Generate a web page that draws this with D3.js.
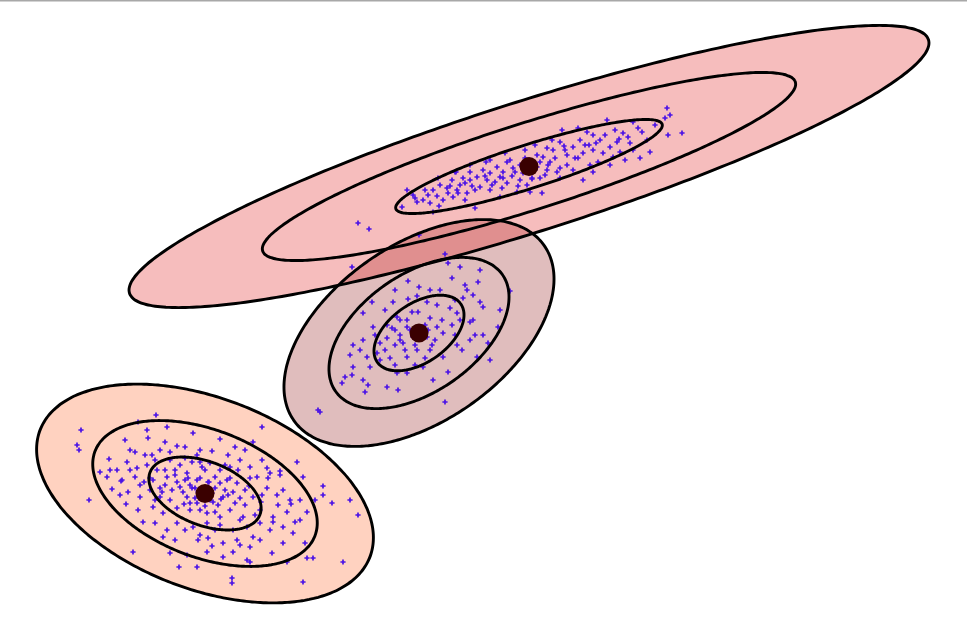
<!DOCTYPE html>
<html>
<head>
<meta charset="utf-8">
<script src="https://cdn.jsdelivr.net/npm/d3@7"></script>
<style>
  html, body { margin: 0; padding: 0; background: #ffffff; }
  svg { display: block; }
</style>
</head>
<body>
<div id="chart"></div>
<script>
// ---------------- DATA (data units: 1 unit = 10 px, y up) ----------------
const clusterNames = ["bottom", "middle", "top"];

// cluster means [x, y]
const clusterMeans = [[20.5, 13.45], [41.9, 29.5], [52.9, 46.15]];
// standard deviation along major / minor axis
const clusterSdMajor = [5.89, 5.09, 13.97];
const clusterSdMinor = [3.18, 2.94, 2.17];
// major axis angle (degrees, counter-clockwise)
const clusterAngle = [-21.1, 34.9, 17.6];
// sigma levels of the contour ellipses
const sigmaLevels = [1, 2, 3];

const bottomPoints = [
[15.6,21.3],[13.8,20.6],[8.1,19.8],[16.7,20.1],[14.7,19.8],[19.3,19.5],[14.8,19.0],[26.2,20.1],
[22.0,18.9],[23.5,18.1],[25.3,18.6],[16.5,18.6],[17.7,18.2],[18.5,18.1],[20.0,17.8],[21.2,17.7],
[7.7,18.3],[7.9,17.8],[13.5,17.6],[15.2,17.3],[16.0,17.8],[17.0,17.6],[10.9,16.9],[12.7,16.6],
[10.0,15.6],[10.7,15.1],[11.7,15.8],[13.7,16.0],[14.7,16.3],[15.7,15.8],[17.0,16.8],[18.0,16.3],
[19.2,16.6],[20.2,16.1],[21.0,16.5],[22.0,15.8],[23.0,16.1],[24.0,16.8],[25.0,16.1],[26.7,16.0],
[27.0,15.5],[29.7,16.6],[13.5,15.1],[15.3,14.8],[16.7,15.1],[17.7,14.6],[18.7,15.5],[19.7,14.8],
[21.5,15.1],[22.7,14.8],[23.7,14.5],[25.7,15.1],[30.3,15.1],[8.9,12.8],[12.8,13.6],[14.0,13.1],
[15.0,13.8],[16.0,13.1],[17.2,13.8],[18.0,14.1],[18.7,13.1],[19.7,12.5],[21.3,12.6],[22.3,13.1],
[23.3,13.6],[24.0,13.0],[25.3,13.1],[26.7,14.0],[27.7,13.3],[28.3,13.8],[32.3,14.2],[32.3,13.3],
[33.2,12.5],[35.0,12.8],[35.8,11.3],[13.8,11.8],[15.3,12.1],[16.3,11.5],[17.7,12.0],[19.0,11.8],
[20.7,11.5],[22.0,11.1],[23.0,11.8],[24.3,11.1],[26.0,11.8],[27.3,11.1],[28.7,11.6],[30.7,11.6],
[14.3,10.6],[15.5,10.5],[16.7,9.8],[17.7,10.5],[19.3,10.1],[20.7,10.5],[22.0,10.3],[23.3,9.8],
[24.7,10.1],[26.0,10.5],[27.3,10.6],[28.3,10.1],[29.3,9.5],[16.3,9.1],[19.8,8.8],[20.8,9.0],
[22.3,8.5],[23.7,8.8],[25.0,8.1],[25.3,9.1],[28.3,8.5],[30.5,8.5],[13.3,7.6],[17.0,7.5],
[18.7,7.3],[20.7,7.6],[22.3,7.1],[23.3,7.6],[24.7,6.8],[25.0,6.6],[27.2,7.5],[28.7,6.6],
[30.7,7.0],[31.3,7.0],[34.3,6.6],[17.9,6.1],[19.7,6.1],[23.2,5.0],[23.2,4.5],[30.3,4.6],
[19.0,14.3],[20.0,15.0],[21.5,14.0],[21.0,12.8],[19.5,13.0],[18.3,13.6],[22.5,13.8],[21.8,12.3],
[20.0,11.8],[18.8,15.0],[17.5,15.8],[23.0,15.0],[20.5,15.8],[16.5,14.3],[24.5,12.3],[17.0,12.8],
[23.8,15.8],[15.5,16.8],[19.2,14.0],[20.9,14.6],[22.1,12.9],[18.4,12.4],[16.2,13.6],[24.9,14.2],
[14.4,14.6],[26.1,12.6],[12.1,14.7],[11.2,13.9],[29.1,12.4],[30.0,10.8],[12.6,12.4],[28.0,15.7],
[17.5,15.3],[18.5,14.8],[19.5,14.0],[20.8,14.6],[22.0,14.5],[22.8,13.3],[21.2,13.5],[19.8,13.6],
[19.0,12.5],[20.5,12.2],[21.5,11.6],[23.5,12.5],[24.5,13.8],[25.0,15.0],[16.5,15.8],[16.0,14.0],
[15.0,15.0],[14.0,14.3],[13.0,15.8],[12.2,14.8],[14.5,17.3],[13.0,17.8],[12.5,18.8],[18.5,17.0],
[19.7,17.3],[22.8,17.3],[24.5,17.8],[26.2,16.8],[28.0,15.3],[29.0,12.8],[26.2,13.3],[25.5,11.3],
[24.0,10.8],[21.5,9.8],[20.0,9.3],[18.5,9.8],[17.5,8.8],[26.0,8.8],[27.0,9.8],[29.5,10.6],
[30.0,12.8],[31.5,12.8],[27.8,12.3],[26.8,15.0],[15.5,12.8],[12.0,13.3],[11.0,15.8],[20.0,16.6],
[22.5,16.3],[24.0,8.3],[21.2,8.2]
];

const middlePoints = [
[35.2,36.1],[41.9,39.3],[44.5,37.4],[44.8,36.5],[46.0,36.1],[48.0,35.8],[45.2,35.0],[40.8,34.7],
[41.9,34.1],[46.5,34.3],[47.8,34.6],[46.7,33.8],[51.0,33.7],[47.3,33.3],[48.0,32.6],[46.3,33.0],
[37.2,32.6],[39.3,32.6],[40.8,32.9],[41.7,33.2],[42.7,32.6],[43.7,32.3],[45.0,32.0],[45.7,31.5],
[48.3,32.1],[47.3,30.8],[36.3,31.5],[38.5,31.8],[39.7,31.1],[40.7,30.8],[41.8,31.6],[43.0,31.0],
[44.2,30.8],[45.2,30.3],[47.0,30.6],[49.8,30.1],[38.7,30.3],[39.2,30.0],[40.7,30.1],[40.0,28.8],
[40.3,28.5],[38.7,29.0],[38.0,28.5],[35.3,28.3],[36.3,28.8],[36.0,27.8],[36.7,27.1],[35.3,26.1],
[34.5,25.1],[34.2,24.5],[35.2,25.3],[36.3,24.8],[36.8,24.3],[36.5,23.6],[38.7,24.1],[39.8,23.8],
[39.7,25.5],[40.7,25.5],[40.7,27.1],[41.7,27.8],[43.0,27.8],[42.3,26.1],[44.3,27.1],[44.8,25.6],
[43.3,24.8],[45.7,28.3],[47.0,28.8],[48.3,29.3],[48.8,28.5],[47.7,27.1],[49.0,26.8],[44.5,22.6],
[31.8,21.8],[32.0,21.6],[37.3,30.1],[37.7,27.5],[39.0,27.0],[37.0,26.1],[42.7,29.1],[41.3,29.1],
[43.7,30.1],[44.3,29.5],[41.0,29.8],[42.5,30.3],[40.0,29.3],[43.5,28.8],[41.5,28.3],[39.5,29.8],
[40.0,30.8],[41.2,31.6],[42.8,29.8],[39.5,28.3],[40.5,27.8],[42.0,29.0],[43.2,28.3],[38.5,27.8],
[37.5,29.3],[45.5,29.3],[46.2,27.8],[45.5,32.8],[44.0,33.8],[43.0,33.8],[39.5,33.8],[38.0,26.8],
[39.5,26.3],[41.5,26.3],[42.5,27.0],[35.0,27.3],[46.0,30.8],[47.5,29.3],[50.0,31.8]
];

const topPoints = [
[66.7,52.0],[67.0,51.3],[66.5,51.0],[68.2,49.5],[66.8,49.3],[64.7,48.8],[65.0,47.6],[64.2,49.6],
[63.3,50.6],[60.7,50.8],[62.3,49.5],[61.7,48.6],[61.0,48.1],[60.0,48.8],[59.3,49.3],[58.7,49.6],
[58.0,48.8],[57.3,48.1],[59.3,47.8],[60.3,47.5],[58.3,47.5],[56.7,47.3],[56.2,49.8],[56.0,48.6],
[55.3,47.8],[54.7,48.0],[54.3,47.1],[55.0,46.6],[56.7,46.3],[55.7,45.6],[54.7,45.8],[58.3,44.8],
[59.3,45.6],[53.7,47.3],[52.5,47.8],[52.7,46.8],[51.3,46.0],[50.7,46.6],[50.3,45.6],[49.7,46.1],
[49.0,45.5],[48.3,45.8],[47.7,45.1],[47.0,45.6],[46.3,45.0],[46.0,44.3],[45.2,44.8],[44.7,44.0],
[44.0,44.3],[43.3,43.8],[42.8,43.3],[42.3,42.8],[41.7,42.6],[40.7,43.8],[40.2,42.1],[43.3,41.6],
[47.5,42.0],[49.5,44.6],[50.7,44.5],[52.0,44.8],[52.7,44.3],[54.2,43.5],[48.0,44.1],[46.7,43.5],
[45.3,43.1],[44.3,42.8],[49.0,43.8],[51.7,43.6],[52.3,45.5],[53.7,46.1],[57.3,45.8],[61.3,47.1],
[63.0,48.5],[63.3,47.8],[62.0,47.6],[54.0,45.0],[50.0,45.1],[45.7,43.8],[46.5,44.5],[48.7,44.8],
[44.8,43.5],[41.3,43.3],[43.0,42.5],[35.8,40.5],[36.9,39.9],[52.0,46.3],[53.5,45.8],[54.0,46.6],
[51.5,45.6],[52.5,47.0],[54.5,45.3],[51.0,46.8],[55.5,47.0],[57.8,47.0],[59.8,46.6],[56.4,48.2],
[50.2,44.0],[47.2,44.2],[53.2,44.9],[58.9,48.3],[61.9,48.9],[48.6,46.6],[45.6,45.6],[43.9,42.2],
[41.5,43.0],[42.5,43.8],[43.7,43.2],[45.0,44.2],[45.8,43.5],[47.0,44.8],[47.5,43.8],[48.5,45.2],
[49.2,44.3],[50.3,45.0],[51.2,45.2],[51.8,44.2],[53.2,45.0],[54.8,46.3],[56.0,46.0],[56.5,47.8],
[57.5,47.0],[58.5,48.3],[59.6,48.5],[60.5,49.3],[61.5,49.8],[62.8,49.1],[63.8,50.0],[65.5,50.3],
[57.8,50.0],[55.2,48.8],[53.5,48.3],[50.5,47.5],[49.0,46.8],[47.0,46.3],[45.5,45.6],[43.8,45.0],
[56.0,45.0],[59.0,46.3],[61.0,46.3],[53.0,43.6],[50.0,43.1],[46.5,42.8],[64.0,47.0],[62.5,46.8]
];

const clusterPoints = [bottomPoints, middlePoints, topPoints];

// ---------------- STYLE ----------------
const W = 967, H = 628;
const fillColors = ["rgb(255,105,45)", "rgb(152,38,38)", "rgb(225,38,38)"];
const fillOpacity = 0.3;
const pointColor = "#4a12e6";
const centerColor = "#3a0000";

const svg = d3.select("#chart").append("svg")
  .attr("width", W).attr("height", H)
  .attr("viewBox", `0 0 ${W} ${H}`);

svg.append("rect").attr("width", W).attr("height", H).attr("fill", "#ffffff");

const x = d3.scaleLinear().domain([0, 96.7]).range([0, W]);
const y = d3.scaleLinear().domain([0, 62.8]).range([H, 0]);

function ellipsePoints(i, k) {
  const [mx, my] = clusterMeans[i];
  const A = clusterSdMajor[i] * k, B = clusterSdMinor[i] * k;
  const th = clusterAngle[i] * Math.PI / 180;
  const c = Math.cos(th), s = Math.sin(th);
  return d3.range(0, 360, 2).map(deg => {
    const t = deg * Math.PI / 180;
    const u = A * Math.cos(t), v = B * Math.sin(t);
    return [mx + u * c - v * s, my + u * s + v * c];
  });
}

const line = d3.line().x(d => x(d[0])).y(d => y(d[1])).curve(d3.curveCardinalClosed.tension(0.5));

const maxSigma = d3.max(sigmaLevels);

// filled outer ellipses
const fills = svg.append("g");
clusterNames.forEach((name, i) => {
  fills.append("path")
    .attr("d", line(ellipsePoints(i, maxSigma)))
    .attr("fill", fillColors[i])
    .attr("fill-opacity", fillOpacity)
    .attr("stroke", "none");
});

// points
const pts = svg.append("g");
clusterPoints.forEach(arr => {
  pts.selectAll(null).data(arr).enter().append("path")
    .attr("d", d => `M${x(d[0]) - 2.6},${y(d[1])}H${x(d[0]) + 2.6}M${x(d[0])},${y(d[1]) - 2.6}V${y(d[1]) + 2.6}`)
    .attr("stroke", pointColor)
    .attr("stroke-width", 1.7)
    .attr("fill", "none");
});

// contour outlines
const outlines = svg.append("g");
clusterNames.forEach((name, i) => {
  sigmaLevels.forEach(k => {
    outlines.append("path")
      .attr("d", line(ellipsePoints(i, k)))
      .attr("fill", "none")
      .attr("stroke", "#000")
      .attr("stroke-width", 2.9);
  });
});

// centers
svg.append("g").selectAll("circle").data(clusterMeans).enter().append("circle")
  .attr("cx", d => x(d[0])).attr("cy", d => y(d[1]))
  .attr("r", 9.5)
  .attr("fill", centerColor);

// top border line
svg.append("line")
  .attr("x1", 0).attr("x2", W).attr("y1", 0.75).attr("y2", 0.75)
  .attr("stroke", "#a8a8a8").attr("stroke-width", 1.5);
</script>
</body>
</html>
